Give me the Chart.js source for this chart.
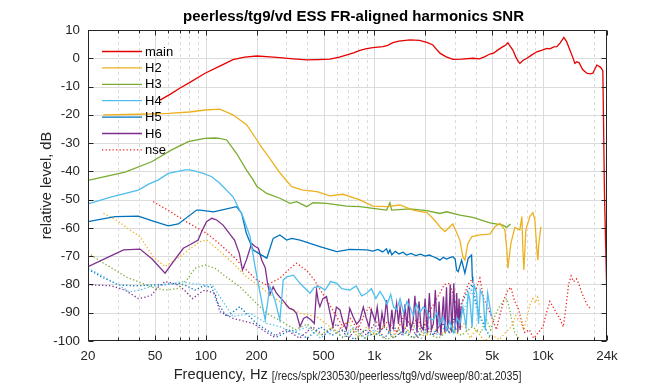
<!DOCTYPE html>
<html><head><meta charset="utf-8">
<script src="https://cdn.jsdelivr.net/npm/chart.js@4/dist/chart.umd.min.js"></script>
<style>html,body{margin:0;padding:0;background:#fff;}canvas{display:block;}</style>
</head><body>
<canvas id="c" width="672" height="384"></canvas>
<script>
// ---------- data (frequency Hz, level dB) ----------
const xMajorTicks = [20,50,100,200,500,1000,2000,5000,10000,24000];
const xMinorTicks = [30,40,60,70,80,90,300,400,600,700,800,900,3000,4000,6000,7000,8000,9000,20000];
const yTicks = [-100,-90,-80,-70,-60,-50,-40,-30,-20,-10,0,10];
const titleText = 'peerless/tg9/vd ESS FR-aligned harmonics SNR';
const xLabelText = 'Frequency, Hz';
const xLabelNote = '[/recs/spk/230530/peerless/tg9/vd/sweep/80:at.2035]';
const yLabelText = 'relative level, dB';

const mainFR = [[53.5,-14.8],[62,-12.6],[70,-10.6],[80,-8.6],[99,-5.3],[121,-2.8],[145,-0.5],[170,0.4],[201,0.8],[240,0.5],[275,0.2],[330,-0.2],[398,-0.6],[460,-0.5],[545,-0.3],[620,0.4],[687,1.2],[760,2.0],[821,2.8],[900,3.4],[980,3.8],[1124,4.1],[1200,4.6],[1289,5.5],[1400,6.1],[1625,6.5],[1850,6.3],[2050,5.6],[2225,4.7],[2350,3.0],[2448,1.8],[2650,0.6],[2923,-0.4],[3300,-0.3],[3842,0],[4200,-0.2],[4500,0.5],[4846,1.5],[5100,1.8],[5332,2.7],[5787,4.1],[6000,4.6],[6197,5.5],[6400,4.2],[6634,2.9],[6900,0.5],[7150,-1.2],[7300,-1.8],[7600,-0.8],[8032,0],[8600,1.2],[9207,2.3],[9800,2.8],[10554,3.5],[11000,3.3],[11600,4.0],[12099,4.1],[12700,5.5],[13312,7.4],[13800,6.0],[14450,2.9],[15000,0.5],[15472,-1.8],[15900,-1.2],[16400,-1.6],[17200,-4.0],[18225,-5.3],[19000,-5.5],[19783,-5.3],[20893,-2.4],[22000,-3.2],[22677,-4.4],[23200,-49],[24000,-86]];

const h2 = [[24.6,-20],[40,-19.8],[60,-19.5],[80,-19],[98.7,-18.3],[121,-18],[145,-20],[175,-23.6],[201,-28.9],[210,-30.7],[240,-35.5],[275,-40.5],[323,-45.4],[377,-46.6],[457,-47.2],[545,-48.7],[651,-48.1],[821,-50.1],[980,-52.3],[1187,-52.5],[1418,-51.9],[1693,-53.7],[2050,-54.6],[2225,-56.6],[2448,-59.6],[2621,-61.3],[2923,-58.6],[3217,-64.3],[3351,-70.2],[3444,-71.4],[3588,-65.5],[3790,-63.1],[4227,-62.5],[4846,-62.2],[5189,-59.6],[5555,-58.4],[5948,-60.7],[6112,-67.8],[6197,-74.3],[6456,-65.5],[6818,-59.8],[7300,-60.7],[7502,-56],[7606,-67.8],[7710,-74.9],[7923,-60.7],[8368,-56],[8718,-54.6],[8960,-57.2],[9207,-67.8],[9334,-71.4],[9461,-65.5],[9724,-59.6]];

const h3 = [[20,-43.2],[33.2,-40.3],[47.7,-36.6],[62.7,-32.4],[78.7,-29.5],[98.7,-28.3],[113.5,-28.2],[121,-28.3],[133,-28.9],[152,-33.6],[174,-39.5],[191,-43],[201,-45.4],[230,-47.8],[275,-49.5],[316,-51.3],[346,-50.7],[397,-52.5],[432,-51.1],[521,-51.3],[684,-52.3],[821,-52.5],[980,-53.1],[1183,-53.7],[1237,-51.1],[1266,-53.7],[1625,-53.3],[2042,-53.9],[2448,-54.9],[2683,-54.3],[3217,-55.5],[3842,-56.3],[4846,-58.2],[5787,-59],[6088,-59.8],[6435,-58.6]];

const h4 = [[20,-51.5],[27.6,-49],[39.8,-46.6],[45.5,-44.6],[52.3,-43],[59.9,-40.7],[75.3,-39.5],[80.5,-39.5],[86.2,-39.9],[96.5,-40.7],[108.5,-41.9],[121,-44.2],[145,-49],[166,-56],[183,-63.1],[196,-73.7],[210,-83.1],[225,-92.6],[240,-80.8],[257,-85.5],[275,-92.6],[288,-78.4],[302,-77.3],[331,-76.7],[362,-79.6],[415,-83.1],[440,-81],[475,-80.8],[510,-82],[550,-79],[598,-79.6],[640,-81.5],[716,-82],[780,-80.5],[840,-84],[900,-83.1],[960,-81.5],[1020,-85],[1080,-82.5],[1129,-84.3],[1190,-87],[1250,-83.5],[1300,-88],[1356,-89],[1420,-85],[1490,-90],[1560,-86],[1625,-87.9],[1700,-91],[1780,-87],[1860,-90],[1950,-88],[2042,-89],[2130,-92],[2234,-92.6],[2350,-90],[2450,-94],[2560,-91.5],[2683,-96.1],[2800,-93],[2950,-97],[3100,-92],[3217,-93.8],[3350,-88],[3500,-95],[3600,-83],[3688,-85.5],[3800,-95],[3900,-80],[4041,-83.1],[4150,-94],[4250,-82],[4421,-84.3],[4550,-96],[4700,-83],[4846,-87.9],[4960,-91.4]];

const h5 = [[20,-57.8],[28.9,-56],[39.8,-55.8],[47.7,-57.4],[59.9,-59.3],[68.7,-58.6],[88.2,-53.7],[92.3,-53.7],[111,-54.3],[152,-52.5],[163,-54.8],[174,-61.9],[191,-67.8],[230,-70.7],[251,-63.7],[275,-62.5],[302,-64.3],[323,-63.7],[362,-64.3],[415,-65.5],[475,-66.6],[598,-68.4],[716,-67.6],[900,-67.8],[980,-68.2],[1050,-67.6],[1120,-68.5],[1180,-67.4],[1209,-69],[1237,-67.8],[1270,-69.5],[1330,-68.3],[1400,-69.2],[1480,-68.6],[1553,-69.6],[1650,-69],[1760,-69.8],[1880,-69.3],[2000,-70],[2120,-69.6],[2234,-70.2],[2340,-70.7],[2448,-71.4],[2560,-70.4],[2683,-71],[2806,-70.5],[2923,-70.2],[3016,-71],[3075,-74.9],[3143,-75.5],[3293,-71.4],[3444,-76],[3603,-70.8],[3775,-69.6],[3810,-77.3],[3840,-79]];

const h6 = [[20,-73.7],[26,-70.5],[32.5,-67.8],[40.7,-67.5],[48,-71],[57.3,-76],[65,-71.5],[73.5,-67.2],[82,-65.7],[90,-64.3],[95,-61],[101,-57.8],[108.5,-56.6],[116,-57.2],[126.6,-59],[140,-62.5],[148,-64.3],[158,-69],[165,-74.9],[174,-71.4],[187,-65.5],[196,-66.6],[205,-67.2],[215,-71.5],[225,-74],[233,-80],[240,-83.5],[251,-80.8],[262,-83],[275,-84.5],[290,-86],[312,-88.4],[330,-89],[345,-90.2],[362,-94.9],[380,-92],[397,-91.4],[420,-92.5],[440,-93.8],[454,-82],[465,-86],[475,-87.9],[495,-85],[520,-84.3],[545,-90],[568,-94.9],[595,-88],[625,-89],[650,-93],[683,-96.1],[715,-88.5],[748,-91.4],[785,-94],[821,-92.6],[860,-88],[896,-92],[930,-95],[960,-89],[1010,-93],[1040,-88],[1079,-96.1],[1110,-90],[1140,-94],[1180,-85.5],[1210,-93],[1237,-96.1],[1270,-89],[1300,-95],[1355,-86.7],[1390,-94],[1420,-88],[1480,-97.3],[1520,-87],[1560,-95],[1600,-85],[1640,-96],[1700,-92.6],[1740,-84],[1790,-97],[1840,-86],[1890,-95],[1950,-96.1],[2000,-85],[2060,-97],[2120,-83],[2180,-96],[2240,-93.8],[2300,-82],[2360,-97],[2420,-86],[2480,-98],[2570,-84.3],[2620,-97],[2680,-81],[2720,-96],[2760,-93.8],[2820,-80],[2880,-97],[2960,-79.6],[3020,-96],[3080,-83],[3130,-97],[3180,-85],[3230,-96],[3270,-88]];

const nseMain = [[48.7,-50.7],[60,-53.8],[75,-57.5],[90,-60.2],[101,-61.9],[120,-65.5],[145,-70],[175,-75],[200,-78.4],[230,-80.2],[275,-77.8],[316,-74.3],[346,-72.5],[397,-75.1],[440,-78.4],[521,-85.5],[598,-91.4],[650,-95],[720,-92],[800,-96],[880,-90],[940,-88],[1000,-92],[1100,-96],[1200,-93],[1350,-97],[1500,-91],[1650,-95],[1800,-92],[1950,-96],[2100,-90],[2300,-86],[2450,-83],[2600,-80],[2806,-79.6],[3000,-86],[3200,-90],[3400,-84],[3600,-80],[3775,-78.4],[4000,-82],[4227,-77.8],[4450,-85],[4700,-88],[5000,-92],[5300,-96],[5600,-90],[5900,-85],[6200,-82],[6450,-81],[6800,-86],[7100,-88],[7400,-92],[7800,-97],[8300,-96],[8800,-99],[9400,-97],[10000,-95],[10500,-90],[11000,-86],[11500,-88],[12000,-90],[12600,-92],[13200,-95],[13700,-88],[14200,-80],[14700,-77],[15200,-79],[15800,-78],[16400,-80],[17000,-83],[17600,-85],[18200,-87],[18800,-88],[19300,-89]];

const nseH2 = [[24.7,-54.8],[30,-57.5],[35,-60.5],[40.7,-63.1],[48.7,-70.2],[57.3,-73.7],[63,-72],[70.3,-70.2],[80,-67.5],[92.3,-64.9],[101,-64.3],[120,-68],[145,-72.5],[174,-77.3],[210,-80.8],[265,-85.5],[362,-90.2],[454,-91.4],[520,-94],[600,-97],[700,-93],[800,-99],[900,-95],[1000,-98],[1150,-94],[1300,-99],[1450,-93],[1600,-97],[1800,-94],[2000,-99],[2200,-95],[2500,-98],[2800,-93],[3100,-97],[3400,-94],[3700,-99],[4000,-96],[4500,-100],[5000,-98],[5500,-99.5],[6000,-97],[6500,-95],[6900,-91],[7300,-93],[7700,-96],[8000,-92],[8400,-87],[8700,-85],[9000,-86.5],[9300,-84.5],[9600,-88]];

const nseH3 = [[20,-68.8],[24,-72],[28.9,-74.9],[34,-77.5],[39.8,-79],[48,-81],[57.3,-82],[68.7,-81.4],[78,-78],[86.2,-74.3],[98.7,-73.1],[113.5,-74.3],[130,-77],[159,-80.8],[200,-86.7],[230,-90.2],[280,-93],[340,-96],[400,-94],[480,-98],[560,-95],[650,-99],[750,-96],[880,-99],[1000,-97],[1200,-99.5],[1400,-96],[1700,-99],[2000,-97],[2400,-99],[2800,-96],[3300,-98],[3800,-95],[4300,-97],[4600,-92],[4900,-96],[5200,-91],[5500,-88],[5800,-86],[6100,-85],[6300,-88],[6500,-92],[6800,-97],[7200,-99]];

const nseH4 = [[20,-74.3],[23.6,-76.5],[27,-78.5],[31,-80.5],[35,-82.6],[40.7,-82],[46.6,-80.8],[56,-80.2],[65,-79.6],[72,-79],[85,-79.8],[100,-80.2],[108.5,-80],[121,-84.3],[145,-91.4],[183,-90.2],[230,-93.8],[275,-94.9],[330,-97],[400,-95],[480,-99],[560,-96],[650,-98.5],[760,-95],[880,-99],[1000,-96],[1150,-99],[1300,-95],[1500,-98],[1700,-94],[1900,-99],[2100,-95],[2400,-98],[2700,-94],[3000,-97],[3300,-91],[3550,-86],[3750,-82],[3900,-85],[4100,-90],[4400,-94],[4700,-97],[5000,-99]];

const nseH5 = [[20,-74.6],[24,-77.3],[30.4,-80.2],[38,-80.5],[47.7,-80.2],[58,-80],[68.7,-79.6],[77,-80.5],[86.2,-82],[97,-80.5],[108.5,-81],[116,-86],[133,-91.4],[159,-87.9],[200,-93.8],[265,-98.5],[320,-96],[400,-99],[480,-95],[560,-98],[650,-96],[760,-99.5],[880,-96],[1000,-98.5],[1150,-95],[1300,-99],[1500,-96],[1700,-99],[1900,-95],[2200,-98],[2500,-94],[2800,-97],[3000,-91],[3200,-88],[3400,-85],[3600,-82],[3800,-80],[4000,-86],[4300,-92],[4600,-96],[4900,-99]];

const nseH6 = [[20,-80.2],[24,-80.3],[27.6,-80.5],[33.2,-82],[39.8,-85],[44,-84.5],[47.7,-83.7],[52,-81],[57.3,-79],[63,-79.5],[68.7,-80.2],[76,-82.5],[83.6,-85],[92,-83],[98.7,-82],[113.5,-83.1],[121,-89.6],[145,-92],[191,-93.8],[251,-98.5],[300,-96],[360,-99],[430,-95],[500,-98],[600,-94],[700,-99],[800,-95],[900,-98],[1000,-94],[1150,-99],[1300,-95],[1450,-98],[1600,-93],[1800,-99],[2000,-94],[2250,-98],[2500,-93],[2750,-97],[3000,-92],[3250,-96]];

// ---------- styling ----------
const FONT = "'Liberation Sans', Arial, sans-serif";
const TXT = '#262626';
const C = {main:'#e60000', h2:'#EDB120', h3:'#77AC30', h4:'#4DBEEE', h5:'#0072BD', h6:'#7E2F8E', nse:'#f02828'};

function pts(a){ return a.map(p => ({x:p[0], y:p[1]})); }
function solid(label, d, col){ return {label, data:pts(d), borderColor:col, borderWidth:1.3, pointRadius:0, fill:false, tension:0, legend:true}; }
function dotted(label, d, col, leg){ return {label, data:pts(d), borderColor:col, borderWidth:1.3, borderDash:[1.3,2.2], pointRadius:0, fill:false, tension:0, legend:leg}; }

const datasets = [
  solid('main', mainFR, C.main),
  solid('H2', h2, C.h2),
  solid('H3', h3, C.h3),
  solid('H4', h4, C.h4),
  solid('H5', h5, C.h5),
  solid('H6', h6, C.h6),
  dotted('nse', nseMain, C.nse, true),
  dotted('nse H2', nseH2, C.h2, false),
  dotted('nse H3', nseH3, C.h3, false),
  dotted('nse H4', nseH4, C.h4, false),
  dotted('nse H5', nseH5, C.h5, false),
  dotted('nse H6', nseH6, C.h6, false)
];

function fmtHz(v){ return v >= 1000 ? (v/1000) + 'k' : String(v); }

const decor = {
  id: 'decor',
  beforeDatasetsDraw(chart){
    const {ctx, chartArea:a, scales:{x, y}} = chart;
    ctx.save();
    ctx.lineWidth = 1;
    ctx.strokeStyle = '#dcdcdc';
    const hl = (x0,y0,x1,y1) => { ctx.beginPath(); ctx.moveTo(x0,y0); ctx.lineTo(x1,y1); ctx.stroke(); };
    yTicks.forEach(v => { const py = Math.round(y.getPixelForValue(v)) + 0.5; if (py > a.top + 1 && py < a.bottom - 1) hl(a.left, py, a.right, py); });
    xMajorTicks.forEach(v => { const px = Math.round(x.getPixelForValue(v)) + 0.5; if (px > a.left + 1 && px < a.right - 1) hl(px, a.top, px, a.bottom); });
    ctx.setLineDash([3,3]);
    xMinorTicks.forEach(v => { const px = Math.round(x.getPixelForValue(v)) + 0.5; hl(px, a.top, px, a.bottom); });
    ctx.restore();
  },
  afterDatasetsDraw(chart){
    const {ctx, chartArea:a, scales:{x, y}} = chart;
    ctx.save();
    ctx.lineWidth = 1;
    ctx.strokeStyle = TXT;
    const L = Math.round(a.left)+0.5, R = Math.round(a.right)-0.5, T = Math.round(a.top)+0.5, B = Math.round(a.bottom)-0.5;
    ctx.strokeRect(L, T, R-L, B-T);
    const hl = (x0,y0,x1,y1) => { ctx.beginPath(); ctx.moveTo(x0,y0); ctx.lineTo(x1,y1); ctx.stroke(); };
    yTicks.forEach(v => { const py = Math.round(y.getPixelForValue(v)) + 0.5; hl(L, py, L+5, py); hl(R, py, R-5, py); });
    xMajorTicks.forEach(v => { const px = Math.round(x.getPixelForValue(v)) + 0.5; hl(px, B, px, B-5); hl(px, T, px, T+5); });
    xMinorTicks.forEach(v => { const px = Math.round(x.getPixelForValue(v)) + 0.5; hl(px, B, px, B-3); hl(px, T, px, T+3); });

    // legend
    ctx.font = '13px ' + FONT;
    ctx.textBaseline = 'middle';
    ctx.textAlign = 'left';
    let ly = 51;
    chart.data.datasets.forEach(ds => {
      if (!ds.legend) return;
      ctx.strokeStyle = ds.borderColor;
      ctx.lineWidth = 1.3;
      ctx.setLineDash(ds.borderDash || []);
      hl(102, ly + 0.5, 142, ly + 0.5);
      ctx.setLineDash([]);
      ctx.fillStyle = '#000';
      ctx.fillText(ds.label, 145, ly + 1);
      ly += 16.4;
    });

    // title
    ctx.fillStyle = '#000';
    ctx.font = 'bold 15px ' + FONT;
    ctx.textAlign = 'center';
    ctx.textBaseline = 'middle';
    ctx.fillText(titleText, 353.5, 17);

    // y label
    ctx.fillStyle = TXT;
    ctx.font = '14.67px ' + FONT;
    ctx.save();
    ctx.translate(47, (a.top + a.bottom)/2);
    ctx.rotate(-Math.PI/2);
    ctx.fillText(yLabelText, 0, 0);
    ctx.restore();

    // x label + note
    const cx = (a.left + a.right) / 2;
    ctx.font = '14.67px ' + FONT;
    const w1 = ctx.measureText(xLabelText).width;
    ctx.font = '13px ' + FONT;
    const sx = 0.82;
    const w2 = ctx.measureText(xLabelNote).width * sx;
    const gap = 4;
    const x0 = cx - (w1 + gap + w2)/2;
    ctx.textAlign = 'left';
    ctx.font = '14.67px ' + FONT;
    ctx.fillText(xLabelText, x0, 375);
    ctx.font = '13px ' + FONT;
    ctx.save();
    ctx.translate(x0 + w1 + gap, 376);
    ctx.scale(sx, 1);
    ctx.fillText(xLabelNote, 0, 0);
    ctx.restore();
    ctx.restore();
  }
};

Chart.defaults.font.family = FONT;
new Chart(document.getElementById('c'), {
  type: 'line',
  data: { datasets },
  options: {
    responsive: false,
    animation: false,
    devicePixelRatio: 1,
    layout: { padding: { left: 0, right: 65, top: 30, bottom: 0 } },
    plugins: { legend: { display: false }, tooltip: { enabled: false }, title: { display: false } },
    scales: {
      x: {
        type: 'logarithmic', min: 20, max: 24000,
        afterBuildTicks: s => { s.ticks = xMajorTicks.map(v => ({value: v})); },
        afterFit: s => { s.height = 43; },
        ticks: { autoSkip: false, maxRotation: 0, padding: 7, color: TXT, font: { size: 13.33 }, callback: v => fmtHz(v) },
        grid: { display: false, drawTicks: false },
        border: { display: false }
      },
      y: {
        type: 'linear', min: -100, max: 10,
        afterBuildTicks: s => { s.ticks = yTicks.map(v => ({value: v})); },
        afterFit: s => { s.width = 88; },
        ticks: { padding: 8, color: TXT, font: { size: 13.33 } },
        grid: { display: false, drawTicks: false },
        border: { display: false }
      }
    }
  },
  plugins: [decor]
});
</script>
</body></html>
